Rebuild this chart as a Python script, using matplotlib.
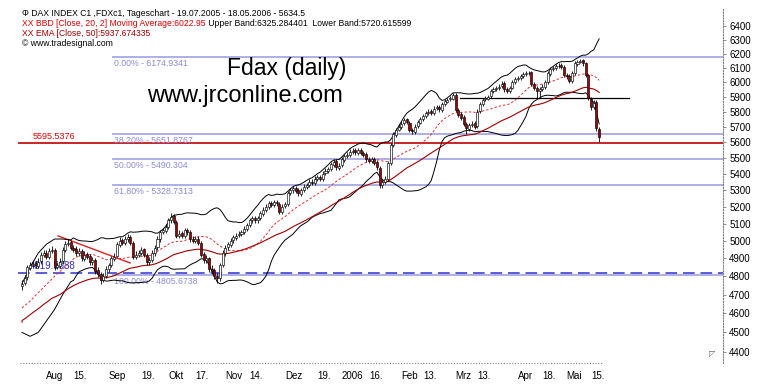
import numpy as np
import pandas as pd
import matplotlib
matplotlib.use('Agg')
import matplotlib.pyplot as plt
from matplotlib.ticker import FixedLocator, FixedFormatter, NullLocator

plt.rcParams['font.family'] = ['Liberation Sans', 'DejaVu Sans']

# trading days of the chart (Eurex holidays removed)
holidays = ['2005-12-26', '2006-04-14', '2006-04-17', '2006-05-01']
dates = pd.bdate_range('2005-07-19', '2006-05-18')
dates = dates[~dates.isin(pd.to_datetime(holidays))]

opens = [4745, 4765, 4795, 4848, 4862, 4872, 4858, 4885, 4918, 4932,
         4908, 4942, 4948, 4852, 4858, 4885, 4948, 4982, 4992, 4958,
         4952, 4928, 4942, 4898, 4922, 4912, 4878, 4892, 4832, 4812,
         4782, 4802, 4838, 4862, 4898, 4915, 4978, 5002, 4988, 5008,
         5022, 4988, 4908, 4918, 4932, 4952, 4918, 4878, 4892, 4928,
         4962, 5008, 5052, 5058, 5082, 5118, 5142, 5108, 5028, 5042,
         5028, 5062, 5048, 5012, 4998, 5012, 4988, 4922, 4888, 4902,
         4842, 4832, 4802, 4788, 4862, 4928, 4962, 4978, 5002, 5018,
         5032, 5038, 5052, 5068, 5092, 5118, 5132, 5118, 5132, 5158,
         5182, 5198, 5222, 5208, 5228, 5218, 5168, 5202, 5218, 5282,
         5298, 5312, 5298, 5278, 5302, 5318, 5332, 5352, 5343, 5368,
         5382, 5368, 5402, 5418, 5432, 5458, 5478, 5438, 5452, 5488,
         5512, 5518, 5538, 5547, 5533, 5552, 5532, 5522, 5492, 5478,
         5492, 5472, 5438, 5328, 5352, 5368, 5468, 5582, 5648, 5682,
         5698, 5722, 5748, 5728, 5682, 5668, 5702, 5728, 5752, 5768,
         5792, 5802, 5788, 5822, 5832, 5812, 5852, 5868, 5882, 5888,
         5912, 5812, 5782, 5762, 5718, 5688, 5712, 5722, 5702, 5802,
         5848, 5882, 5888, 5902, 5938, 5952, 5958, 5972, 5992, 5952,
         5938, 5962, 5998, 6022, 6028, 6042, 6053, 6062, 6068, 5988,
         5962, 5938, 5952, 5968, 6002, 6058, 6092, 6098, 6112, 6118,
         6108, 6048, 6042, 6008, 6062, 6128, 6142, 6152, 6132, 6048,
         5885, 5832, 5862, 5688]
highs = [4780, 4805, 4865, 4880, 4890, 4885, 4900, 4935, 4950, 4945,
         4960, 4970, 4960, 4880, 4900, 4965, 5000, 5010, 5005, 4975,
         4968, 4960, 4955, 4940, 4935, 4925, 4910, 4900, 4850, 4825,
         4820, 4855, 4875, 4915, 4930, 4995, 5020, 5015, 5030, 5040,
         5035, 5000, 4940, 4950, 4965, 4960, 4930, 4905, 4945, 4975,
         5025, 5065, 5075, 5095, 5135, 5160, 5155, 5120, 5060, 5055,
         5075, 5075, 5060, 5030, 5025, 5025, 5000, 4935, 4920, 4910,
         4860, 4845, 4820, 4875, 4945, 4975, 4995, 5015, 5035, 5045,
         5055, 5065, 5085, 5105, 5135, 5145, 5145, 5145, 5175, 5195,
         5215, 5235, 5235, 5240, 5240, 5225, 5215, 5230, 5295, 5315,
         5325, 5325, 5310, 5315, 5335, 5345, 5365, 5365, 5385, 5395,
         5395, 5415, 5435, 5445, 5475, 5490, 5490, 5465, 5505, 5525,
         5535, 5555, 5560, 5560, 5565, 5565, 5545, 5535, 5505, 5505,
         5505, 5485, 5450, 5370, 5385, 5480, 5595, 5665, 5695, 5715,
         5735, 5760, 5760, 5740, 5695, 5715, 5745, 5765, 5785, 5805,
         5815, 5815, 5835, 5845, 5845, 5865, 5885, 5895, 5905, 5925,
         5925, 5825, 5795, 5775, 5730, 5725, 5735, 5735, 5815, 5865,
         5895, 5905, 5915, 5955, 5965, 5975, 5985, 6005, 6005, 5965,
         5975, 6015, 6035, 6045, 6055, 6070, 6075, 6080, 6080, 6000,
         5975, 5965, 5985, 6015, 6075, 6105, 6115, 6125, 6130, 6130,
         6120, 6060, 6055, 6075, 6145, 6155, 6165, 6165, 6140, 6055,
         5900, 5880, 5875, 5700]
lows = [4725, 4750, 4780, 4835, 4850, 4845, 4845, 4870, 4905, 4895,
        4895, 4930, 4835, 4840, 4845, 4870, 4935, 4970, 4945, 4935,
        4915, 4915, 4885, 4885, 4895, 4865, 4865, 4815, 4795, 4755,
        4770, 4790, 4825, 4850, 4885, 4905, 4965, 4975, 4975, 4995,
        4975, 4895, 4895, 4905, 4920, 4905, 4865, 4865, 4880, 4915,
        4950, 4995, 5040, 5045, 5070, 5105, 5095, 5015, 5015, 5015,
        5015, 5035, 4995, 4985, 4985, 4975, 4905, 4875, 4875, 4825,
        4815, 4785, 4765, 4775, 4850, 4915, 4950, 4965, 4990, 5005,
        5020, 5025, 5040, 5055, 5080, 5105, 5105, 5105, 5120, 5145,
        5170, 5185, 5195, 5195, 5205, 5155, 5155, 5190, 5205, 5270,
        5285, 5280, 5265, 5265, 5290, 5305, 5320, 5330, 5330, 5355,
        5355, 5355, 5390, 5405, 5420, 5445, 5425, 5425, 5440, 5475,
        5500, 5505, 5525, 5520, 5520, 5515, 5505, 5475, 5465, 5465,
        5455, 5425, 5310, 5315, 5340, 5355, 5455, 5570, 5635, 5670,
        5685, 5710, 5715, 5665, 5650, 5655, 5690, 5715, 5740, 5755,
        5780, 5775, 5775, 5810, 5800, 5800, 5840, 5855, 5870, 5875,
        5795, 5765, 5745, 5705, 5650, 5675, 5700, 5685, 5690, 5790,
        5835, 5870, 5875, 5890, 5925, 5940, 5945, 5960, 5935, 5925,
        5925, 5950, 5985, 6010, 6015, 6030, 6040, 6050, 5975, 5945,
        5895, 5900, 5940, 5955, 5990, 6045, 6080, 6085, 6100, 6090,
        6035, 6025, 5995, 5995, 6050, 6115, 6130, 6115, 6035, 5875,
        5810, 5820, 5675, 5600]
closes = [4760, 4790, 4850, 4860, 4870, 4860, 4880, 4920, 4930, 4910,
          4940, 4950, 4850, 4860, 4880, 4950, 4980, 4990, 4960, 4950,
          4930, 4940, 4900, 4920, 4910, 4880, 4890, 4830, 4810, 4780,
          4800, 4840, 4860, 4900, 4910, 4980, 5000, 4990, 5010, 5020,
          4990, 4910, 4920, 4930, 4950, 4920, 4880, 4890, 4930, 4960,
          5010, 5050, 5060, 5080, 5120, 5140, 5110, 5030, 5040, 5030,
          5060, 5050, 5010, 5000, 5010, 4990, 4920, 4890, 4900, 4840,
          4830, 4800, 4790, 4860, 4930, 4960, 4980, 5000, 5020, 5030,
          5040, 5050, 5070, 5090, 5120, 5130, 5120, 5130, 5160, 5180,
          5200, 5220, 5210, 5225, 5220, 5170, 5200, 5215, 5280, 5300,
          5310, 5295, 5280, 5300, 5320, 5330, 5350, 5345, 5370, 5380,
          5370, 5400, 5420, 5430, 5460, 5475, 5440, 5450, 5490, 5510,
          5520, 5540, 5545, 5535, 5550, 5530, 5520, 5490, 5480, 5490,
          5470, 5440, 5330, 5350, 5370, 5470, 5580, 5650, 5680, 5700,
          5720, 5745, 5730, 5680, 5670, 5700, 5730, 5750, 5770, 5790,
          5800, 5790, 5820, 5830, 5815, 5850, 5870, 5880, 5890, 5910,
          5810, 5780, 5760, 5720, 5690, 5710, 5720, 5700, 5800, 5850,
          5880, 5890, 5900, 5940, 5950, 5960, 5970, 5990, 5950, 5940,
          5960, 6000, 6020, 6030, 6040, 6055, 6060, 6065, 5990, 5960,
          5940, 5950, 5970, 6000, 6060, 6090, 6100, 6110, 6115, 6105,
          6050, 6040, 6010, 6060, 6130, 6140, 6150, 6130, 6050, 5890,
          5830, 5860, 5690, 5634.5]

# band values for the first days (history before 19.07. not shown)
warm_idx = [0, 3, 6, 9, 12, 15, 18]
warm_mid = [4628, 4665, 4710, 4755, 4800, 4840, 4880]
warm_upper = [4760, 4850, 4930, 4980, 5010, 5010, 5005]
warm_lower = [4500, 4480, 4500, 4560, 4620, 4700, 4770]
ema_seed = 4554

fib_levels = [6174.9341, 5651.8767, 5490.304, 5328.7313, 4805.6738]
fib_labels = ['0.00% - 6174.9341', '38.20% - 5651.8767', '50.00% - 5490.304',
              '61.80% - 5328.7313', '100.00% - 4805.6738']
fib_start = 33.5
red_level = 5595.5376
blue_level = 4819.5388
support_level = 5890
support_span = [161.5, 224]
trend_idx = [13.3, 39.9]
trend_val = [5028, 4874]

tick_dates = ['2005-08-01', '2005-08-15', '2005-09-01', '2005-09-19', '2005-10-03',
              '2005-10-17', '2005-11-01', '2005-11-14', '2005-12-01', '2005-12-19',
              '2006-01-02', '2006-01-16', '2006-02-01', '2006-02-13', '2006-03-01',
              '2006-03-13', '2006-04-03', '2006-04-18', '2006-05-02', '2006-05-15']
tick_labels = ['Aug', '15.', 'Sep', '19.', 'Okt', '17.', 'Nov', '14.', 'Dez', '19.',
               '2006', '16.', 'Feb', '13.', 'Mrz', '13.', 'Apr', '18.', 'Mai', '15.']
y_ticks = list(range(4400, 6401, 100))

W, H = 767, 388
fig = plt.figure(figsize=(W / 100, H / 100), dpi=100)
ax = fig.add_axes([18 / W, 1 - 363 / H, (723 - 18) / W, (363 - 8) / H])

df = pd.DataFrame({'open': opens, 'high': highs, 'low': lows, 'close': closes}, index=dates)
x = np.arange(len(df))

# indicators
mid = df['close'].rolling(20).mean()
sd = df['close'].rolling(20).std(ddof=0)
upper = mid + 2 * sd
lower = mid - 2 * sd
ema = pd.concat([pd.Series([ema_seed]), df['close'].reset_index(drop=True)]).ewm(span=50, adjust=False).mean().iloc[1:].values

bx = warm_idx + list(x[19:])
b_mid = warm_mid + list(mid.values[19:])
b_up = warm_upper + list(upper.values[19:])
b_lo = warm_lower + list(lower.values[19:])

ax.set_yscale('log')
ax.set_xlim(-1.48, 258.7)
ax.set_ylim(4344.6, 6533.8)

# horizontal levels
for lvl, lab in zip(fib_levels, fib_labels):
    ax.plot([fib_start, 260], [lvl, lvl], color='#a8a8e6', lw=1.3, zorder=1)
    ax.annotate(lab, (fib_start, lvl), xytext=(1, -1.5), textcoords='offset points',
                va='top', ha='left', fontsize=6.3, color='#8c8cdc')
ax.axhline(red_level, color='#c00000', lw=1.2, zorder=2)
ax.annotate('5595.5376', (4, red_level), xytext=(0, 1.5), textcoords='offset points',
            va='bottom', ha='left', fontsize=6.5, color='#e00000')
ax.axhline(blue_level, color='#4040d0', lw=1.2, dashes=(7, 3.5), zorder=2)
ax.annotate('4819.5388', (3, blue_level), xytext=(0, 1), textcoords='offset points',
            va='bottom', ha='left', fontsize=7, color='#3030c0')
ax.plot(support_span, [support_level, support_level], color='black', lw=0.9, zorder=2)
ax.plot(trend_idx, trend_val, color='#e02020', lw=1.0, zorder=2)

# indicators
ax.plot(bx, b_up, color='black', lw=0.7, zorder=3)
ax.plot(bx, b_lo, color='black', lw=0.7, zorder=3)
ax.plot(bx, b_mid, color='#e03030', lw=0.7, dashes=(2.5, 2), zorder=3)
ax.plot(np.r_[0, x], np.r_[ema_seed, ema], color='#a00000', lw=0.8, zorder=3)

# candles
up = df['close'] >= df['open']
ax.vlines(x, df['low'], df['high'], color='black', lw=0.6, zorder=4)
body_lo = np.minimum(df['open'], df['close'])
body_h = np.maximum(np.abs(df['close'] - df['open']), 2)
ax.bar(x, body_h, bottom=body_lo, width=0.75,
       color=np.where(up, 'white', '#a00000'), edgecolor='black', lw=0.45, zorder=5)

# axes look
for s in ['top', 'left', 'bottom']:
    ax.spines[s].set_visible(False)
ax.spines['right'].set_linestyle((0, (1, 1.5)))
ax.spines['right'].set_color('#808080')
ax.spines['right'].set_linewidth(0.8)
ax.yaxis.tick_right()
ax.yaxis.set_major_locator(FixedLocator(y_ticks))
ax.yaxis.set_major_formatter(FixedFormatter([str(v) for v in y_ticks]))
ax.yaxis.set_minor_locator(NullLocator())
ax.tick_params(axis='y', length=2.5, width=0.6, color='#808080', pad=2, labelsize=7)

tick_pos = [dates.get_indexer([pd.Timestamp(d)])[0] for d in tick_dates]
ax.set_xticks(tick_pos)
ax.set_xticklabels(tick_labels, ha='left', fontsize=7)
ax.tick_params(axis='x', length=0, pad=6)
ax.plot([-0.7, len(df)], [0, 0], transform=ax.get_xaxis_transform(), color='#808080',
        lw=0.8, ls=(0, (1, 1.5)), clip_on=False)

# titles
fig.text(287 / W, 1 - 69 / H, 'Fdax (daily)', fontsize=16.5, ha='center', va='center')
fig.text(245 / W, 1 - 96 / H, 'www.jrconline.com', fontsize=17, ha='center', va='center')
fig.text(712 / W, 1 - 353 / H, '◸', fontsize=6, color='#606060', ha='center', va='center',
         family='DejaVu Sans')

renderer = fig.canvas.get_renderer()


def header_line(y_px, parts):
    xp = 22
    for s, col in parts:
        t = fig.text(xp / W, 1 - y_px / H, s, color=col, fontsize=6.2, ha='left', va='center')
        xp += t.get_window_extent(renderer).width


header_line(13, [('Φ DAX INDEX C1 ,FDXc1, Tageschart - 19.07.2005 - 18.05.2006 - 5634.5', 'black')])
header_line(23, [('XX BBD [Close, 20, 2] Moving Average:6022.95', '#e00000'),
                 (' Upper Band:6325.284401  Lower Band:5720.615599', 'black')])
header_line(33, [('XX EMA [Close, 50]:5937.674335', '#a00000')])
header_line(43, [('© www.tradesignal.com', 'black')])

fig.savefig('out.png', dpi=100)
